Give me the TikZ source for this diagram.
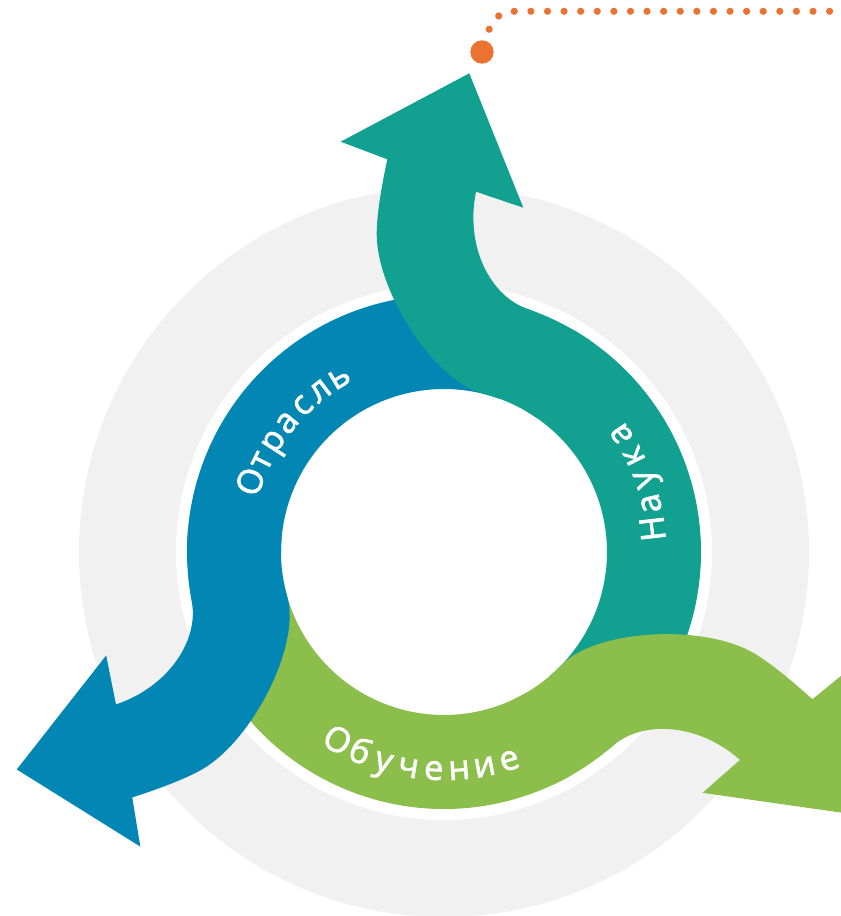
\documentclass[tikz,border=0pt]{standalone}
\usepackage{fontspec}
\newfontfamily\labelfont{Open Sans}[FakeBold=2]

\definecolor{ringgray}{RGB}{241,241,241}
\definecolor{industryblue}{RGB}{2,134,180}
\definecolor{scienceteal}{RGB}{18,160,145}
\definecolor{learninggreen}{RGB}{139,190,75}
\definecolor{leadorange}{RGB}{235,115,50}

\tikzset{
  letter/.style={anchor=base, inner sep=0pt, text=white, font=\labelfont\fontsize{19.5}{19.5}\selectfont},
  leader/.style={leadorange, line width=0.144cm, line cap=round, dash pattern=on 0pt off 0.332cm, dash phase=0.096cm},
  bigdot/.style={circle, fill=leadorange, inner sep=0pt, minimum size=0.468cm}
}

\begin{document}
\begin{tikzpicture}[x=0.02cm, y=0.02cm]
\useasboundingbox (-444,-364) rectangle (397,552);

% grey ring behind
\fill[ringgray, even odd rule] (0,0) circle (365) (0,0) circle (268);

% ring parts of the three arrows
\foreach \ang/\col in {0/scienceteal, 120/industryblue, 240/learninggreen}
  \fill[\col, rotate=\ang] (-50:163) arc[start angle=-50, end angle=60, radius=163]
    -- (60:257) arc[start angle=60, end angle=-50, radius=257] -- cycle;

% swerves and heads on top
\foreach \ang/\col in {0/scienceteal, 120/industryblue, 240/learninggreen}
  \fill[\col, rotate=\ang] (55:257) arc[start angle=55, end angle=71, radius=257]
    .. controls (45.9,256) and (21,306) .. (32,360.3) -- (79.3,344.3) -- (25.3,478.7)
    -- (-103.3,410.3) -- (-56.7,392.7) .. controls (-60.9,373.1) and (-67.3,340) .. (-67.3,318)
    .. controls (-67.3,260) and (-9.1,170.2) .. (76:163)
    arc[start angle=76, end angle=55, radius=163] -- cycle;

% labels
\foreach \ch [count=\i from 0] in {О,т,р,а,с,л,ь}
  \node[letter, rotate={70-6.5*\i}] (otr-\i) at ({160-6.5*\i}:194) {\ch};
\foreach \ch [count=\i from 0] in {Н,а,у,к,а}
  \node[letter, rotate={96.4+6.8*\i}] (nau-\i) at ({6.4+6.8*\i}:222) {\ch};
\foreach \ch [count=\i from 0] in {О,б,у,ч,е,н,и,е}
  \node[letter, rotate={330.5+6.7*\i}] (obu-\i) at ({240.5+6.7*\i}:228) {\ch};

% orange leader
\node[bigdot] (dot) at (38,500) {};
\coordinate (bend) at (69.3,540.7);
\coordinate (lead) at (420,540.7);
\draw[leader] (dot) .. controls (47,532) and (55,540.7) .. (bend) -- (lead);
\end{tikzpicture}
\end{document}
